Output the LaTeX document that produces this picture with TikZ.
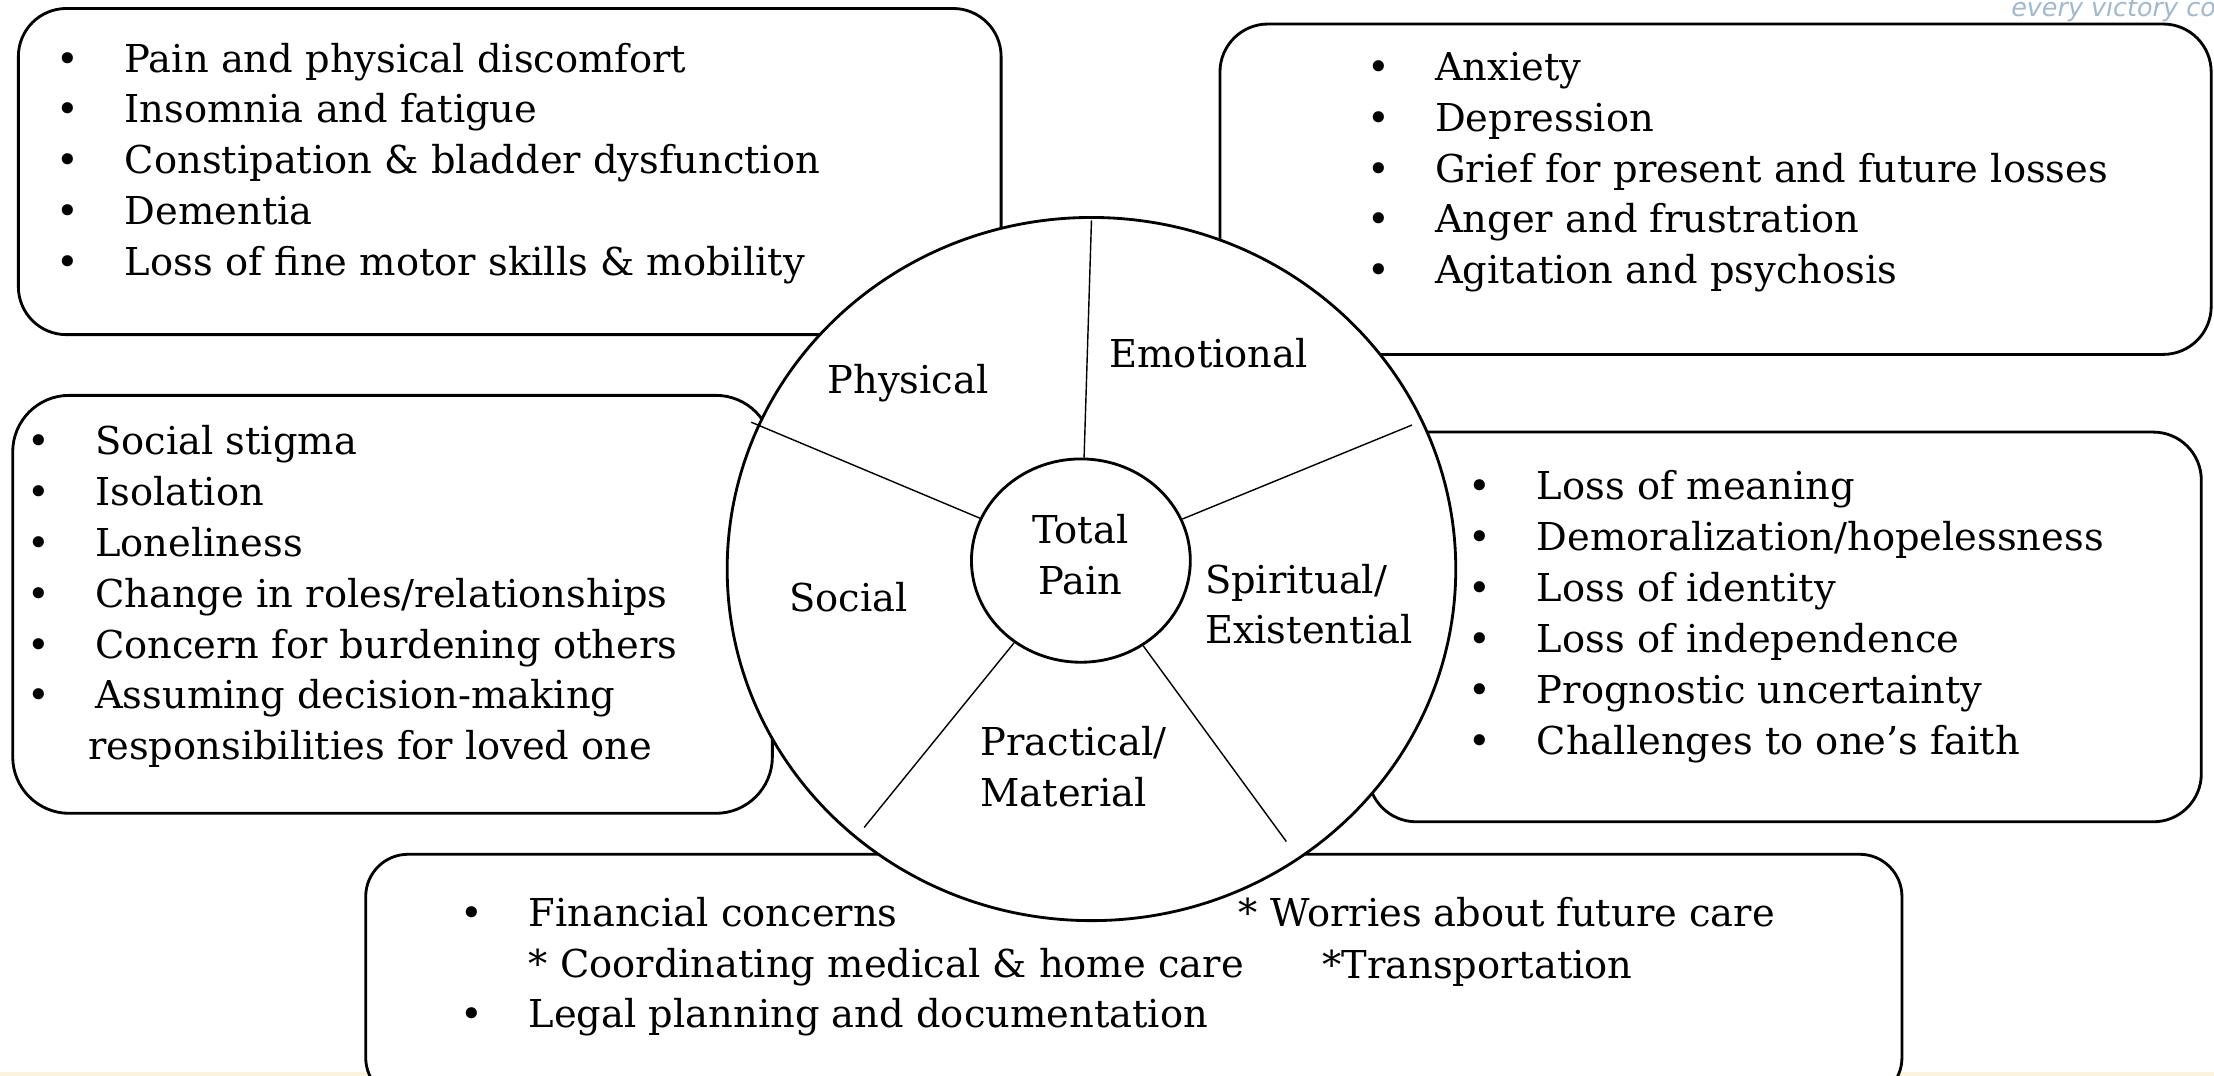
\documentclass[tikz,border=0pt]{standalone}
\usepackage{fontspec}
\setmainfont{DejaVu Serif}
\newfontfamily\logofont{DejaVu Sans}
\usetikzlibrary{shapes.geometric}
\definecolor{logoblue}{RGB}{160,185,210}
\definecolor{paleyellow}{RGB}{252,244,218}
\newcommand\bu{\llap{\textbullet\hspace{16pt}}}
\begin{document}
\begin{tikzpicture}[x=0.5pt,y=-0.5pt,
  box/.style={draw=black, line width=1pt, fill=white, rounded corners=17pt, inner sep=0pt, anchor=north west},
  txt/.style={inner sep=0pt, anchor=base west, font=\fontsize{13.6}{18}\selectfont},
  lbl/.style={inner sep=0pt, anchor=base, font=\fontsize{13.6}{18}\selectfont},
  spoke/.style={draw=black, line width=0.5pt},
  ring/.style={ellipse, draw=black, line width=1pt, fill=white, inner sep=0pt}]
\useasboundingbox (0,0) rectangle (1568,762);
\clip (0,0) rectangle (1568,762);
\fill[white] (0,0) rectangle (1568,762);
\fill[paleyellow] (0,759) rectangle (1568,762);
\node[inner sep=0pt, anchor=base west, text=logoblue, font=\logofont\itshape\fontsize{9}{9}\selectfont] (logo) at (1424,12) {every victory co};
% boxes
\node[box, minimum width=348pt, minimum height=115.5pt] (phybox) at (12,5) {};
\node[box, minimum width=351pt, minimum height=117pt] (emobox) at (863,16) {};
\node[box, minimum width=269pt, minimum height=148pt, rounded corners=20pt] (socbox) at (8,279) {};
\node[box, minimum width=295pt, minimum height=138pt] (spibox) at (968,305) {};
\node[box, minimum width=544pt, minimum height=87pt, rounded corners=15pt] (prabox) at (258,604) {};
% box texts
\node[txt] (phytext) at (88,51) {\begin{tabular}[t]{@{}l@{}}
\bu Pain and physical discomfort\\
\bu Insomnia and fatigue\\
\bu Constipation \& bladder dysfunction\\
\bu Dementia\\
\bu Loss of fine motor skills \& mobility\end{tabular}};
\node[txt] (emotext) at (1016,57) {\begin{tabular}[t]{@{}l@{}}
\bu Anxiety\\
\bu Depression\\
\bu Grief for present and future losses\\
\bu Anger and frustration\\
\bu Agitation and psychosis\end{tabular}};
\node[txt] (soctext) at (67,322) {\begin{tabular}[t]{@{}l@{}}
\bu Social stigma\\
\bu Isolation\\
\bu Loneliness\\
\bu Change in roles/relationships\\
\bu Concern for burdening others\\
\bu Assuming decision-making\\
\hspace{-2.5pt}responsibilities for loved one\end{tabular}};
\node[txt] (spitext) at (1088,354) {\begin{tabular}[t]{@{}l@{}}
\bu Loss of meaning\\
\bu Demoralization/hopelessness\\
\bu Loss of identity\\
\bu Loss of independence\\
\bu Prognostic uncertainty\\
\bu Challenges to one’s faith\end{tabular}};
\node[txt] (pratext) at (374,656) {\begin{tabular}[t]{@{}l@{}}
\bu Financial concerns\\
\relax{*} Coordinating medical \& home care\\
\bu Legal planning and documentation\end{tabular}};
\node[txt] (worries) at (877,656) {* Worries about future care};
\node[txt] (transp) at (936,693) {*Transportation};
% wheel
\node[ring, minimum width=258pt, minimum height=249pt] (outer) at (773,403) {};
\coordinate (s1) at (773,156);
\coordinate (s2) at (1000,301);
\coordinate (s3) at (532,299);
\coordinate (s4) at (612,586);
\coordinate (s5) at (911,596);
\node[ring, minimum width=77.5pt, minimum height=72pt] (inner) at (765.5,397) {};
\draw[spoke] (inner) -- (s1);
\draw[spoke] (inner) -- (s2);
\draw[spoke] (inner) -- (s3);
\draw[spoke] (inner) -- (s4);
\draw[spoke] (inner) -- (s5);
\node[lbl] (total) at (765,385) {\begin{tabular}[t]{@{}c@{}}Total\\Pain\end{tabular}};
\node[lbl] (physical) at (643,279) {Physical};
\node[lbl] (emotional) at (856,260) {Emotional};
\node[lbl] (social) at (601,433) {Social};
\node[txt] (spiritual) at (853,420) {\begin{tabular}[t]{@{}l@{}}Spiritual/\\Existential\end{tabular}};
\node[txt] (practical) at (694,535) {\begin{tabular}[t]{@{}l@{}}Practical/\\Material\end{tabular}};
\end{tikzpicture}
\end{document}
